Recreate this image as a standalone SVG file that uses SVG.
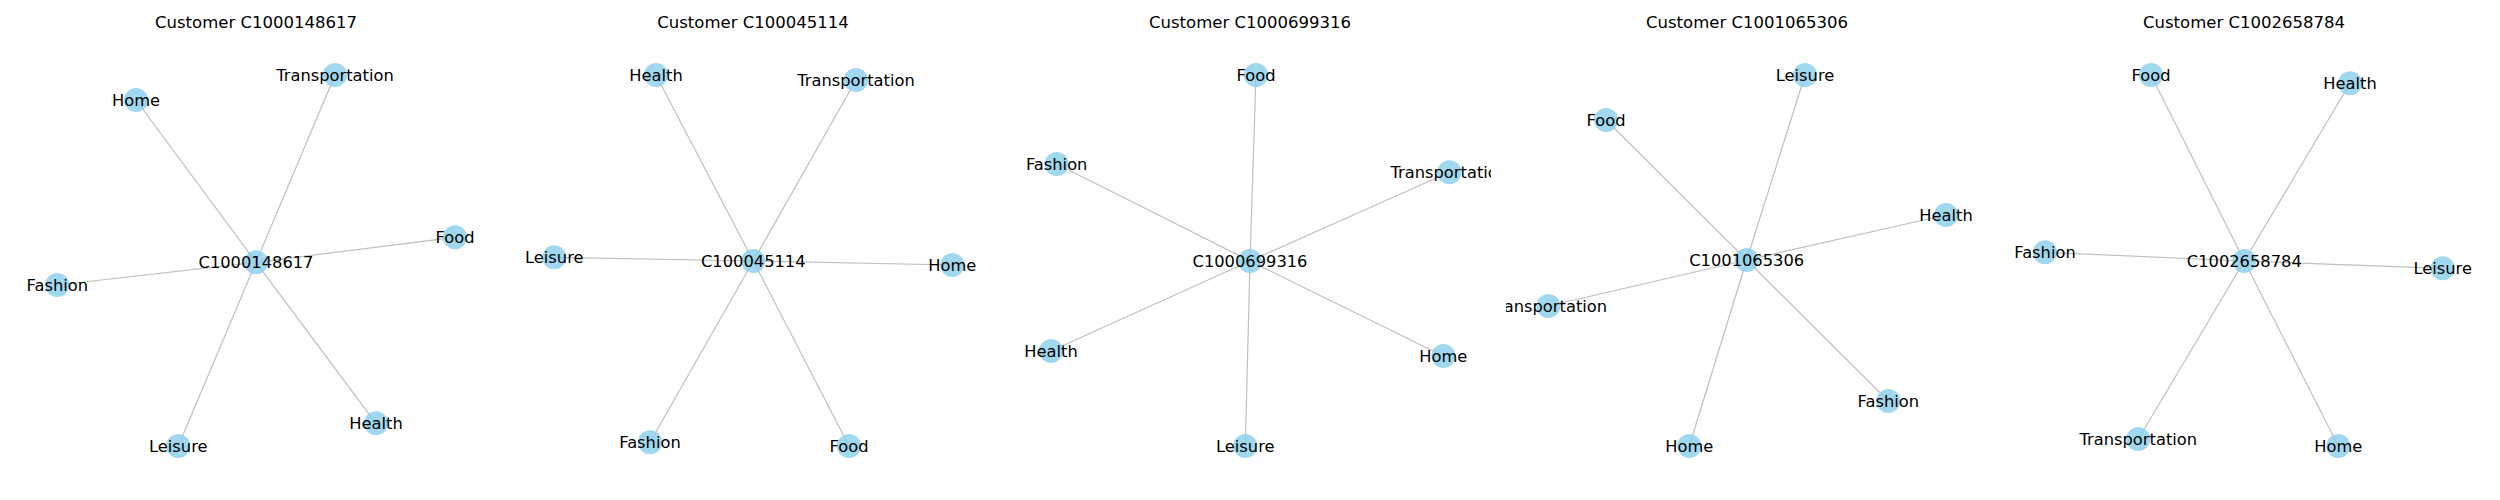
<svg xmlns="http://www.w3.org/2000/svg" width="2500" height="500" viewBox="0 0 2500 500">
<style>
.t{font-family:"DejaVu Sans",sans-serif;font-size:16.5px;fill:#000;text-anchor:middle}
.l{font-family:"DejaVu Sans",sans-serif;font-size:16.3px;fill:#000;text-anchor:middle}
.n{fill:#87CEEB;fill-opacity:0.8}
.e{stroke:#808080;stroke-opacity:0.5;stroke-width:1.2;fill:none}
</style>
<defs>
<clipPath id="c1"><rect x="15" y="0" width="482" height="500"/></clipPath>
<clipPath id="c2"><rect x="512" y="0" width="482" height="500"/></clipPath>
<clipPath id="c3"><rect x="1009" y="0" width="482" height="500"/></clipPath>
<clipPath id="c4"><rect x="1506" y="0" width="482" height="500"/></clipPath>
<clipPath id="c5"><rect x="2003" y="0" width="482" height="500"/></clipPath>
</defs>
<rect width="2500" height="500" fill="#fff"/>
<g id="titles">
<text class="t" x="256" y="28">Customer C1000148617</text>
<text class="t" x="753" y="28">Customer C100045114</text>
<text class="t" x="1250" y="28">Customer C1000699316</text>
<text class="t" x="1747" y="28">Customer C1001065306</text>
<text class="t" x="2244" y="28">Customer C1002658784</text>
</g>
<g id="connectors">
<g clip-path="url(#c1)">
<line class="e" x1="256" y1="262.3" x2="136" y2="100"/>
<line class="e" x1="256" y1="262.3" x2="335" y2="75"/>
<line class="e" x1="256" y1="262.3" x2="455" y2="237.3"/>
<line class="e" x1="256" y1="262.3" x2="57.3" y2="285"/>
<line class="e" x1="256" y1="262.3" x2="178.3" y2="446"/>
<line class="e" x1="256" y1="262.3" x2="376" y2="423.3"/>
</g>
<g clip-path="url(#c2)">
<line class="e" x1="753.3" y1="261" x2="656" y2="75"/>
<line class="e" x1="753.3" y1="261" x2="856" y2="80"/>
<line class="e" x1="753.3" y1="261" x2="554.3" y2="257.3"/>
<line class="e" x1="753.3" y1="261" x2="952.3" y2="265"/>
<line class="e" x1="753.3" y1="261" x2="650" y2="442.3"/>
<line class="e" x1="753.3" y1="261" x2="849" y2="446"/>
</g>
<g clip-path="url(#c3)">
<line class="e" x1="1250" y1="261" x2="1256" y2="75"/>
<line class="e" x1="1250" y1="261" x2="1056.7" y2="164"/>
<line class="e" x1="1250" y1="261" x2="1449.3" y2="172.3"/>
<line class="e" x1="1250" y1="261" x2="1051" y2="351"/>
<line class="e" x1="1250" y1="261" x2="1443.3" y2="356"/>
<line class="e" x1="1250" y1="261" x2="1245.3" y2="446"/>
</g>
<g clip-path="url(#c4)">
<line class="e" x1="1746.7" y1="260" x2="1805" y2="75"/>
<line class="e" x1="1746.7" y1="260" x2="1606" y2="120"/>
<line class="e" x1="1746.7" y1="260" x2="1946" y2="215"/>
<line class="e" x1="1746.7" y1="260" x2="1548.3" y2="306"/>
<line class="e" x1="1746.7" y1="260" x2="1888.3" y2="401"/>
<line class="e" x1="1746.7" y1="260" x2="1689.3" y2="446"/>
</g>
<g clip-path="url(#c5)">
<line class="e" x1="2244.3" y1="261" x2="2151" y2="75"/>
<line class="e" x1="2244.3" y1="261" x2="2350" y2="83.3"/>
<line class="e" x1="2244.3" y1="261" x2="2045" y2="252.3"/>
<line class="e" x1="2244.3" y1="261" x2="2442.7" y2="268.3"/>
<line class="e" x1="2244.3" y1="261" x2="2138.3" y2="439"/>
<line class="e" x1="2244.3" y1="261" x2="2338.3" y2="446"/>
</g>
</g>
<g id="panel1" clip-path="url(#c1)">
<g id="p1-center"><circle class="n" cx="256" cy="262.3" r="12"/><text class="l" x="256" y="267.8">C1000148617</text></g>
<g id="p1-home"><circle class="n" cx="136" cy="100" r="12"/><text class="l" x="136" y="105.5">Home</text></g>
<g id="p1-transportation"><circle class="n" cx="335" cy="75" r="12"/><text class="l" x="335" y="80.5">Transportation</text></g>
<g id="p1-food"><circle class="n" cx="455" cy="237.3" r="12"/><text class="l" x="455" y="242.8">Food</text></g>
<g id="p1-fashion"><circle class="n" cx="57.3" cy="285" r="12"/><text class="l" x="57.3" y="290.5">Fashion</text></g>
<g id="p1-leisure"><circle class="n" cx="178.3" cy="446" r="12"/><text class="l" x="178.3" y="451.5">Leisure</text></g>
<g id="p1-health"><circle class="n" cx="376" cy="423.3" r="12"/><text class="l" x="376" y="428.8">Health</text></g>
</g>
<g id="panel2" clip-path="url(#c2)">
<g id="p2-center"><circle class="n" cx="753.3" cy="261" r="12"/><text class="l" x="753.3" y="266.5">C100045114</text></g>
<g id="p2-health"><circle class="n" cx="656" cy="75" r="12"/><text class="l" x="656" y="80.5">Health</text></g>
<g id="p2-transportation"><circle class="n" cx="856" cy="80" r="12"/><text class="l" x="856" y="85.5">Transportation</text></g>
<g id="p2-leisure"><circle class="n" cx="554.3" cy="257.3" r="12"/><text class="l" x="554.3" y="262.8">Leisure</text></g>
<g id="p2-home"><circle class="n" cx="952.3" cy="265" r="12"/><text class="l" x="952.3" y="270.5">Home</text></g>
<g id="p2-fashion"><circle class="n" cx="650" cy="442.3" r="12"/><text class="l" x="650" y="447.8">Fashion</text></g>
<g id="p2-food"><circle class="n" cx="849" cy="446" r="12"/><text class="l" x="849" y="451.5">Food</text></g>
</g>
<g id="panel3" clip-path="url(#c3)">
<g id="p3-center"><circle class="n" cx="1250" cy="261" r="12"/><text class="l" x="1250" y="266.5">C1000699316</text></g>
<g id="p3-food"><circle class="n" cx="1256" cy="75" r="12"/><text class="l" x="1256" y="80.5">Food</text></g>
<g id="p3-fashion"><circle class="n" cx="1056.7" cy="164" r="12"/><text class="l" x="1056.7" y="169.5">Fashion</text></g>
<g id="p3-transportation"><circle class="n" cx="1449.3" cy="172.3" r="12"/><text class="l" x="1449.3" y="177.8">Transportation</text></g>
<g id="p3-health"><circle class="n" cx="1051" cy="351" r="12"/><text class="l" x="1051" y="356.5">Health</text></g>
<g id="p3-home"><circle class="n" cx="1443.3" cy="356" r="12"/><text class="l" x="1443.3" y="361.5">Home</text></g>
<g id="p3-leisure"><circle class="n" cx="1245.3" cy="446" r="12"/><text class="l" x="1245.3" y="451.5">Leisure</text></g>
</g>
<g id="panel4" clip-path="url(#c4)">
<g id="p4-center"><circle class="n" cx="1746.7" cy="260" r="12"/><text class="l" x="1746.7" y="265.5">C1001065306</text></g>
<g id="p4-leisure"><circle class="n" cx="1805" cy="75" r="12"/><text class="l" x="1805" y="80.5">Leisure</text></g>
<g id="p4-food"><circle class="n" cx="1606" cy="120" r="12"/><text class="l" x="1606" y="125.5">Food</text></g>
<g id="p4-health"><circle class="n" cx="1946" cy="215" r="12"/><text class="l" x="1946" y="220.5">Health</text></g>
<g id="p4-transportation"><circle class="n" cx="1548.3" cy="306" r="12"/><text class="l" x="1548.3" y="311.5">Transportation</text></g>
<g id="p4-fashion"><circle class="n" cx="1888.3" cy="401" r="12"/><text class="l" x="1888.3" y="406.5">Fashion</text></g>
<g id="p4-home"><circle class="n" cx="1689.3" cy="446" r="12"/><text class="l" x="1689.3" y="451.5">Home</text></g>
</g>
<g id="panel5" clip-path="url(#c5)">
<g id="p5-center"><circle class="n" cx="2244.3" cy="261" r="12"/><text class="l" x="2244.3" y="266.5">C1002658784</text></g>
<g id="p5-food"><circle class="n" cx="2151" cy="75" r="12"/><text class="l" x="2151" y="80.5">Food</text></g>
<g id="p5-health"><circle class="n" cx="2350" cy="83.3" r="12"/><text class="l" x="2350" y="88.8">Health</text></g>
<g id="p5-fashion"><circle class="n" cx="2045" cy="252.3" r="12"/><text class="l" x="2045" y="257.8">Fashion</text></g>
<g id="p5-leisure"><circle class="n" cx="2442.7" cy="268.3" r="12"/><text class="l" x="2442.7" y="273.8">Leisure</text></g>
<g id="p5-transportation"><circle class="n" cx="2138.3" cy="439" r="12"/><text class="l" x="2138.3" y="444.5">Transportation</text></g>
<g id="p5-home"><circle class="n" cx="2338.3" cy="446" r="12"/><text class="l" x="2338.3" y="451.5">Home</text></g>
</g>
</svg>
